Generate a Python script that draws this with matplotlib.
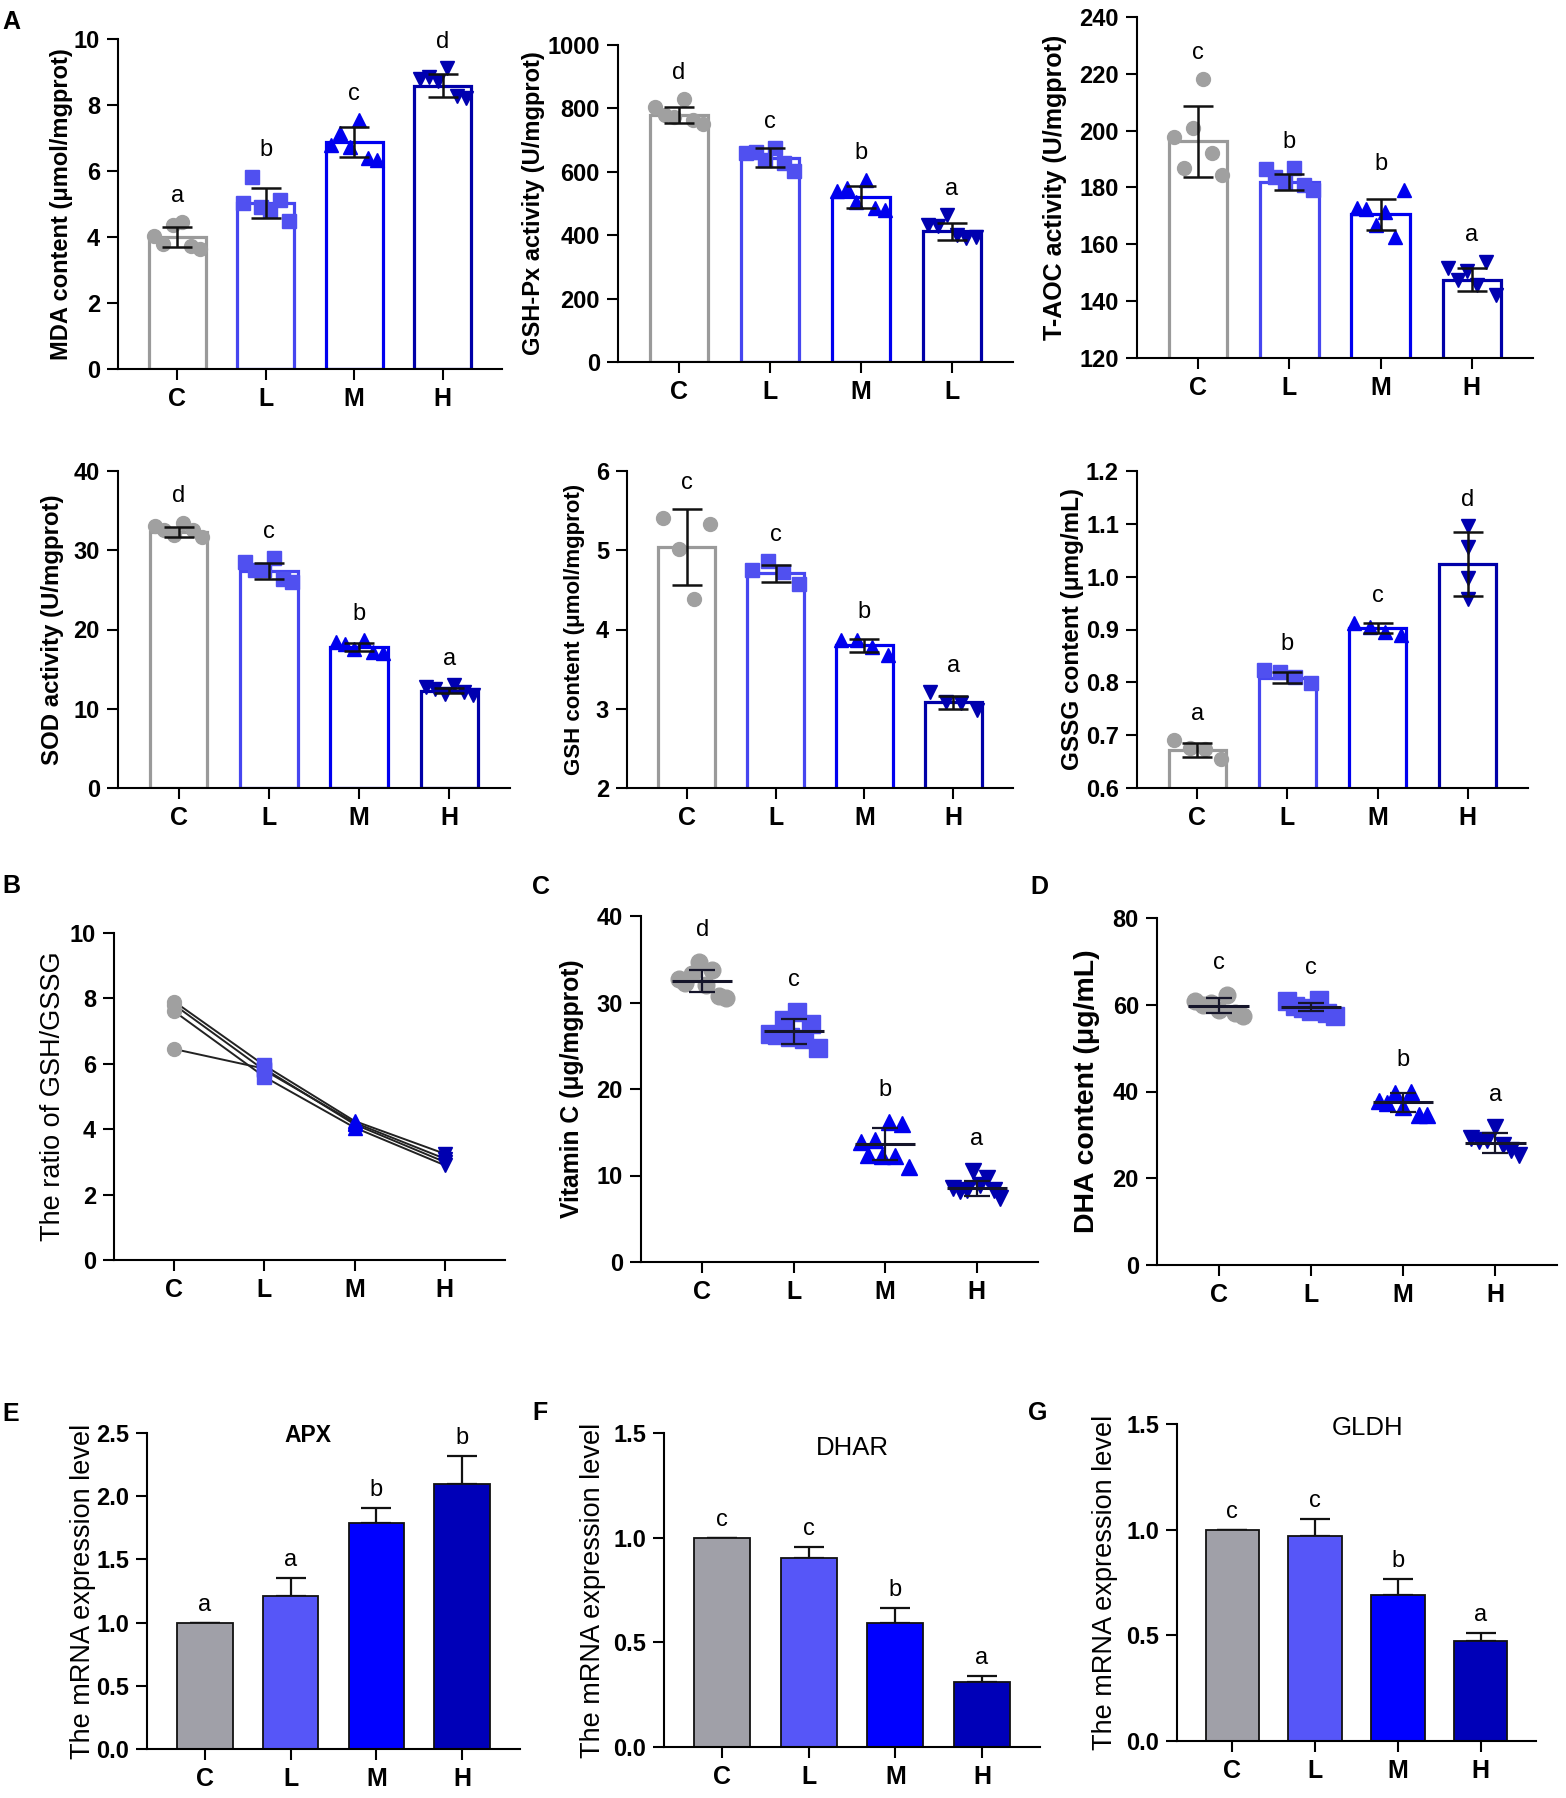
import numpy as np
import matplotlib
matplotlib.use('Agg')
import matplotlib.pyplot as plt
from matplotlib.ticker import FormatStrFormatter

plt.rcParams['font.family'] = ['Liberation Sans', 'DejaVu Sans']

W, H = 1566, 1798
DPI = 100

groups = ['C', 'L', 'M', 'H']
groups_gshpx = ['C', 'L', 'M', 'L']

# ---------------- Panel A data ----------------
mda_mean = [4.00, 5.03, 6.87, 8.59]
mda_sd = [0.31, 0.45, 0.45, 0.34]
mda_pts = [[4.03, 3.78, 4.37, 4.44, 3.72, 3.63],
           [5.03, 5.83, 4.92, 4.82, 5.13, 4.47],
           [6.79, 7.15, 6.74, 7.55, 6.39, 6.34],
           [8.79, 8.86, 8.72, 9.12, 8.26, 8.21]]
mda_letters = ['a', 'b', 'c', 'd']

gshpx_mean = [779, 645, 520, 412]
gshpx_sd = [25.5, 29, 35, 27]
gshpx_pts = [[805, 780, 774, 829, 764, 751],
             [659, 664, 638, 674, 627, 601],
             [538, 548, 506, 575, 485, 480],
             [433, 428, 464, 401, 391, 394]]
gshpx_letters = ['d', 'c', 'b', 'a']

taoc_mean = [196.2, 181.8, 170.5, 147.6]
taoc_sd = [12.35, 2.85, 5.4, 4.1]
taoc_pts = [[197.9, 186.8, 200.9, 218.1, 192.3, 184.4],
            [186.5, 183.8, 182.1, 186.8, 180.9, 179.1],
            [172.7, 172.3, 166.8, 171.5, 162.7, 179.1],
            [151.5, 147.4, 150.7, 145.6, 153.9, 142.1]]
taoc_letters = ['c', 'b', 'b', 'a']

sod_mean = [32.3, 27.4, 17.8, 12.3]
sod_sd = [0.6, 1.0, 0.55, 0.3]
sod_pts = [[33.0, 32.5, 31.9, 33.5, 32.5, 31.7],
           [28.5, 27.5, 27.5, 29.0, 26.4, 26.0],
           [18.4, 18.2, 17.6, 18.7, 17.2, 17.0],
           [12.8, 12.5, 11.9, 13.0, 12.1, 11.7]]
sod_letters = ['d', 'c', 'b', 'a']

gsh_mean = [5.04, 4.71, 3.80, 3.08]
gsh_sd = [0.475, 0.105, 0.085, 0.085]
gsh_pts = [[5.41, 5.01, 4.38, 5.33],
           [4.75, 4.86, 4.73, 4.58],
           [3.87, 3.87, 3.78, 3.68],
           [3.21, 3.09, 3.07, 2.98]]
gsh_letters = ['c', 'c', 'b', 'a']

gssg_mean = [0.672, 0.809, 0.902, 1.024]
gssg_sd = [0.013, 0.010, 0.0095, 0.060]
gssg_pts = [[0.690, 0.675, 0.673, 0.654],
            [0.823, 0.820, 0.810, 0.798],
            [0.913, 0.905, 0.896, 0.889],
            [1.095, 1.057, 0.997, 0.957]]
gssg_letters = ['a', 'b', 'c', 'd']

# ---------------- Panel B data ----------------
ratio_C = [7.9, 7.8, 7.6, 6.45]
ratio_L = [5.95, 5.8, 5.6, 5.85]
ratio_M = [4.25, 4.2, 4.05, 4.15]
ratio_H = [3.25, 3.1, 2.9, 3.0]

# ---------------- Panel C / D data ----------------
vitc_mean = [32.5, 26.7, 13.6, 8.5]
vitc_sd = [1.25, 1.45, 1.85, 0.9]
vitc_pts = [[32.7, 32.3, 33.3, 34.7, 32.0, 33.8, 30.7, 30.5],
            [26.4, 26.3, 28.0, 26.0, 28.9, 25.8, 27.5, 24.7],
            [13.9, 12.4, 14.1, 12.2, 16.2, 12.2, 16.0, 11.0],
            [8.5, 8.2, 8.3, 10.5, 8.9, 9.7, 8.3, 7.4]]
vitc_letters = ['d', 'c', 'b', 'a']

dha_mean = [59.8, 59.5, 37.5, 28.1]
dha_sd = [1.7, 1.0, 2.15, 2.3]
dha_pts = [[60.8, 60.0, 60.5, 58.7, 62.3, 58.1, 57.5],
           [60.8, 59.6, 59.2, 58.5, 61.2, 58.1, 57.5],
           [37.7, 37.3, 39.6, 36.5, 40.0, 34.6, 34.6],
           [29.2, 28.5, 28.8, 31.9, 27.7, 26.5, 25.4]]
dha_letters = ['c', 'c', 'b', 'a']

# ---------------- Panel E / F / G data ----------------
apx_mean = [1.0, 1.21, 1.79, 2.10]
apx_sd = [0.0, 0.14, 0.115, 0.22]
apx_letters = ['a', 'a', 'b', 'b']

dhar_mean = [1.0, 0.903, 0.59, 0.31]
dhar_sd = [0.0, 0.052, 0.075, 0.029]
dhar_letters = ['c', 'c', 'b', 'a']

gldh_mean = [1.0, 0.97, 0.69, 0.474]
gldh_sd = [0.0, 0.08, 0.078, 0.036]
gldh_letters = ['c', 'c', 'b', 'a']

# ---------------- styles ----------------
edge_cols = ['#9a9a9a', '#4646f0', '#0000f0', '#0000a8']
mark_cols = ['#a0a0a0', '#5050f0', '#0000ee', '#0000b0']
fill_cols = ['#a0a0a8', '#5656f8', '#0000ff', '#0000b8']
markers = ['o', 's', '^', 'v']

fig = plt.figure(figsize=(W / DPI, H / DPI), dpi=DPI)


def make_ax(l, r, t, b):
    return fig.add_axes([l / W, 1 - b / H, (r - l) / W, (b - t) / H])


def style_ax(ax, ylim, step, xlabels, ylabel, lab_x, lab_size, lab_weight='bold', fmt=None):
    ax.set_xlim(-0.67, 3.67)
    ax.set_ylim(*ylim)
    ax.set_yticks(np.arange(ylim[0], ylim[1] + step / 2, step))
    if fmt:
        ax.yaxis.set_major_formatter(FormatStrFormatter(fmt))
    ax.set_xticks(np.arange(4))
    ax.set_xticklabels(xlabels, fontsize=18, fontweight='bold')
    for lab in ax.get_yticklabels():
        lab.set_fontsize(17)
        lab.set_fontweight('bold')
    for s in ['top', 'right']:
        ax.spines[s].set_visible(False)
    for s in ['left', 'bottom']:
        ax.spines[s].set_linewidth(1.5)
    ax.tick_params(axis='both', length=8, width=1.5, pad=5)
    ax.set_ylabel(ylabel, fontsize=lab_size, fontweight=lab_weight, va='center')
    ax.yaxis.set_label_coords(lab_x, 0.5)


def letters_above(ax, tops, letters, off):
    for i, (t, s) in enumerate(zip(tops, letters)):
        ax.annotate(s, (i, t), xytext=(0, off), textcoords='offset points',
                    ha='center', va='bottom', fontsize=17)


def bar_scatter(ax, means, sds, pts, letters, spreads=(0.26, 0.26, 0.26, 0.26)):
    x = np.arange(4)
    ax.bar(x, means, width=0.64, color='white', edgecolor=edge_cols,
           linewidth=2.3, zorder=1)
    for i, p in enumerate(pts):
        off = np.linspace(-spreads[i], spreads[i], len(p))
        ax.plot(i + off, p, ls='none', marker=markers[i], ms=10,
                color=mark_cols[i], mec=mark_cols[i], zorder=3, clip_on=False)
    ax.errorbar(x, means, yerr=sds, fmt='none', ecolor='#111111',
                elinewidth=1.8, capsize=10.5, capthick=1.8, zorder=4)
    tops = [max(max(p), m + s) for p, m, s in zip(pts, means, sds)]
    letters_above(ax, tops, letters, 11)


def dot_plot(ax, means, sds, pts, letters):
    x = np.arange(4)
    for i, p in enumerate(pts):
        off = np.linspace(-0.26, 0.26, len(p))
        ax.plot(i + off, p, ls='none', marker=markers[i],
                ms=13 if markers[i] == 's' else 12,
                color=mark_cols[i], mec=mark_cols[i], zorder=3)
    ax.hlines(means, x - 0.33, x + 0.33, colors='#15152a', linewidth=2.2, zorder=4)
    ax.errorbar(x, means, yerr=sds, fmt='none', ecolor='#15152a',
                elinewidth=1.6, capsize=9.5, capthick=1.6, zorder=4)
    tops = [max(max(p), m + s) for p, m, s in zip(pts, means, sds)]
    letters_above(ax, tops, letters, 15)


def filled_bars(ax, means, sds, letters, title, tx, ty, tweight, tsize):
    x = np.arange(4)
    ax.bar(x, means, width=0.65, color=fill_cols, edgecolor='#111111',
           linewidth=1.3, zorder=2)
    err = np.array(sds)
    ax.errorbar(x, means, yerr=[np.zeros(4), err], fmt='none', ecolor='#111111',
                elinewidth=1.6, capsize=11, capthick=1.6, zorder=1)
    tops = [m + s for m, s in zip(means, sds)]
    letters_above(ax, tops, letters, 5)
    ax.text(tx, ty, title, ha='center', va='center', fontsize=tsize, fontweight=tweight)


# ---------------- Row 1 ----------------
ax = make_ax(118, 502, 39, 369)
bar_scatter(ax, mda_mean, mda_sd, mda_pts, mda_letters)
style_ax(ax, (0, 10), 2, groups, 'MDA content (μmol/mgprot)', -0.146, 17)

ax = make_ax(618, 1013, 45, 362)
bar_scatter(ax, gshpx_mean, gshpx_sd, gshpx_pts, gshpx_letters)
style_ax(ax, (0, 1000), 200, groups_gshpx, 'GSH-Px activity (U/mgprot)', -0.215, 17)

ax = make_ax(1137, 1533, 17, 358)
bar_scatter(ax, taoc_mean, taoc_sd, taoc_pts, taoc_letters)
style_ax(ax, (120, 240), 20, groups, 'T-AOC activity (U/mgprot)', -0.207, 18)

# ---------------- Row 2 ----------------
ax = make_ax(118, 510, 471, 788)
bar_scatter(ax, sod_mean, sod_sd, sod_pts, sod_letters)
style_ax(ax, (0, 40), 10, groups, 'SOD activity (U/mgprot)', -0.166, 17.3)

ax = make_ax(627, 1013, 471, 788)
bar_scatter(ax, gsh_mean, gsh_sd, gsh_pts, gsh_letters)
style_ax(ax, (2, 6), 1, groups, 'GSH content (μmol/mgprot)', -0.135, 16)

ax = make_ax(1137, 1528, 471, 788)
bar_scatter(ax, gssg_mean, gssg_sd, gssg_pts, gssg_letters,
            spreads=(0.26, 0.26, 0.26, 0.0))
style_ax(ax, (0.6, 1.2), 0.1, groups, 'GSSG content (μmg/mL)', -0.166, 17.5, fmt='%.1f')

# ---------------- Row 3: B ----------------
ax = make_ax(114, 505, 933, 1260)
reps = np.array([ratio_C, ratio_L, ratio_M, ratio_H])
for j in range(reps.shape[1]):
    ax.plot(np.arange(4), reps[:, j], color='#222222', lw=1.4, zorder=2)
for i in range(4):
    ax.plot(np.full(reps.shape[1], i), reps[i], ls='none', marker=markers[i],
            ms=10, color=mark_cols[i], mec=mark_cols[i], zorder=3)
style_ax(ax, (0, 10), 2, groups, 'The ratio of GSH/GSSG', -0.156, 19.5, lab_weight='normal')

# C
ax = make_ax(641, 1038, 916, 1262)
dot_plot(ax, vitc_mean, vitc_sd, vitc_pts, vitc_letters)
style_ax(ax, (0, 40), 10, groups, 'Vitamin C (μg/mgprot)', -0.174, 17.8)

# D
ax = make_ax(1157, 1557, 918, 1265)
dot_plot(ax, dha_mean, dha_sd, dha_pts, dha_letters)
style_ax(ax, (0, 80), 20, groups, 'DHA content (μg/mL)', -0.175, 20.5)

# ---------------- Row 4 ----------------
ax = make_ax(147, 520, 1433, 1749)
filled_bars(ax, apx_mean, apx_sd, apx_letters, 'APX', 1.2, 2.48, 'bold', 16.5)
style_ax(ax, (0, 2.5), 0.5, groups, 'The mRNA expression level', -0.172, 19.5,
         lab_weight='normal', fmt='%.1f')

ax = make_ax(664, 1040, 1433, 1747)
filled_bars(ax, dhar_mean, dhar_sd, dhar_letters, 'DHAR', 1.5, 1.43, 'normal', 18.5)
style_ax(ax, (0, 1.5), 0.5, groups, 'The mRNA expression level', -0.19, 19.5,
         lab_weight='normal', fmt='%.1f')

ax = make_ax(1177, 1536, 1424, 1741)
filled_bars(ax, gldh_mean, gldh_sd, gldh_letters, 'GLDH', 1.63, 1.48, 'normal', 18.5)
style_ax(ax, (0, 1.5), 0.5, groups, 'The mRNA expression level', -0.2, 19.5,
         lab_weight='normal', fmt='%.1f')

# ---------------- panel letters ----------------
for s, (px, py) in {'A': (2, 22), 'B': (2, 886), 'C': (532, 887), 'D': (1030, 887),
                    'E': (2, 1414), 'F': (532, 1413), 'G': (1028, 1413)}.items():
    fig.text(px / W, 1 - py / H, s, ha='left', va='center', fontsize=18, fontweight='bold')

fig.savefig('out.png', dpi=DPI)
